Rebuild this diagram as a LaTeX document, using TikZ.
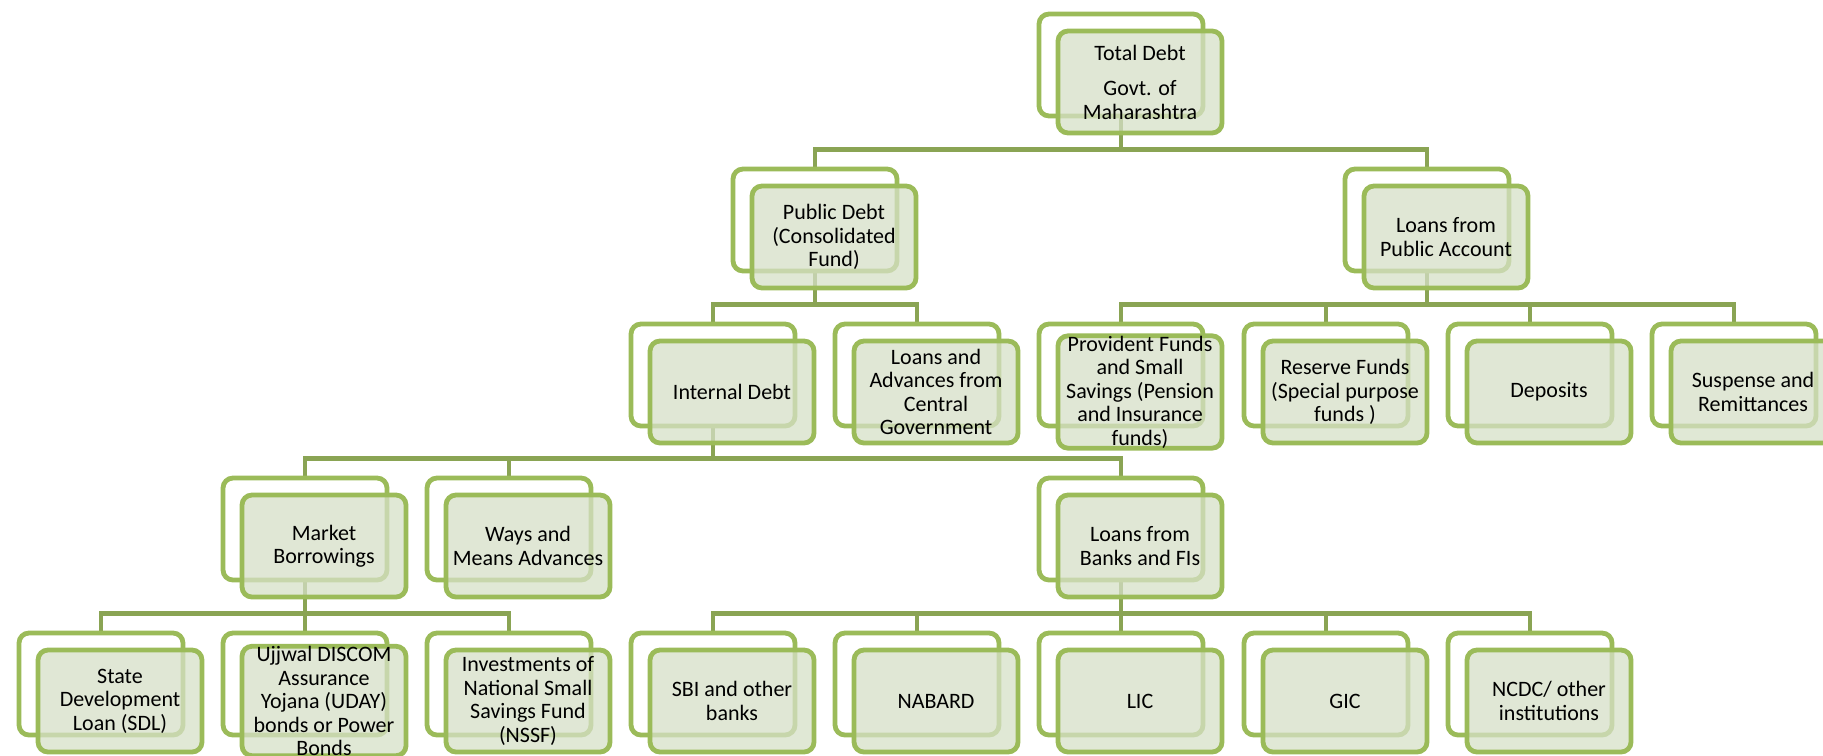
\documentclass[tikz,border=0pt]{standalone}
\usepackage{fontspec}
\setmainfont{Carlito}
\usetikzlibrary{positioning}
\pgfdeclarelayer{background}
\pgfsetlayers{background,main}
\definecolor{framegreen}{RGB}{155,187,89}
\definecolor{linkgreen}{RGB}{138,164,84}
\definecolor{boxgreen}{RGB}{214,224,199}
\tikzset{
  backnode/.style={draw=framegreen,line width=2.4pt,fill=white,rounded corners=5pt,
    minimum width=82pt,minimum height=51pt,inner sep=0pt},
  facenode/.style={backnode,fill=boxgreen,fill opacity=0.75,text opacity=1,
    align=center,font=\fontsize{11}{11.75}\selectfont},
  linkline/.style={draw=linkgreen,line width=2.3pt},
  face/.style={shift={(9.5pt,-8.5pt)}}
}

\begin{document}
\begin{tikzpicture}[x=0.5pt,y=-0.5pt]
  \useasboundingbox (0,0) rectangle (1823,755);
  \clip (0,0) rectangle (1823,755);
  % frames behind the boxes
  \foreach \n/\x/\y in {tot/1121/65, pd/815/220, lpa/1427/220,
      id/713/375, lcg/917/375, pf/1121/375, rf/1326/375, dep/1530/375, sr/1734/375,
      mb/305/529, wma/509/529, lbf/1121/529,
      sdl/101/684, uday/305/684, nssf/509/684,
      sbi/713/684, nab/917/684, lic/1121/684, gic/1326/684, ncdc/1530/684}
    \node[backnode] (\n) at (\x,\y) {};
  % boxes
  \node[facenode] (tot-f) at ([face]tot) {Total Debt\\[6pt]Govt. of\\Maharashtra};
  \node[facenode] (pd-f) at ([face]pd) {Public Debt\\(Consolidated\\Fund)};
  \node[facenode] (lpa-f) at ([face]lpa) {Loans from\\Public Account};
  \node[facenode] (id-f) at ([face]id) {Internal Debt};
  \node[facenode] (lcg-f) at ([face]lcg) {Loans and\\Advances from\\Central\\Government};
  \node[facenode] (pf-f) at ([face]pf) {Provident Funds\\and Small\\Savings (Pension\\and Insurance\\funds)};
  \node[facenode] (rf-f) at ([face]rf) {Reserve Funds\\(Special purpose\\funds )};
  \node[facenode] (dep-f) at ([face]dep) {Deposits};
  \node[facenode] (sr-f) at ([face]sr) {Suspense and\\Remittances};
  \node[facenode] (mb-f) at ([face]mb) {Market\\Borrowings};
  \node[facenode] (wma-f) at ([face]wma) {Ways and\\Means Advances};
  \node[facenode] (lbf-f) at ([face]lbf) {Loans from\\Banks and FIs};
  \node[facenode] (sdl-f) at ([face]sdl) {State\\Development\\Loan (SDL)};
  \node[facenode] (uday-f) at ([face]uday) {Ujjwal DISCOM\\Assurance\\Yojana (UDAY)\\bonds or Power\\Bonds};
  \node[facenode] (nssf-f) at ([face]nssf) {Investments of\\National Small\\Savings Fund\\(NSSF)};
  \node[facenode] (sbi-f) at ([face]sbi) {SBI and other\\banks};
  \node[facenode] (nab-f) at ([face]nab) {NABARD};
  \node[facenode] (lic-f) at ([face]lic) {LIC};
  \node[facenode] (gic-f) at ([face]gic) {GIC};
  \node[facenode] (ncdc-f) at ([face]ncdc) {NCDC/ other\\institutions};
  % connectors
  \begin{pgfonlayer}{background}
    \foreach \a/\b in {tot/pd, tot/lpa, pd/id, pd/lcg,
        lpa/pf, lpa/rf, lpa/dep, lpa/sr,
        id/mb, id/wma, id/lbf,
        mb/sdl, mb/uday, mb/nssf,
        lbf/sbi, lbf/nab, lbf/lic, lbf/gic, lbf/ncdc}
      \draw[linkline] (\a.south) |- ([yshift=8.7pt]\b.north) -- (\b.north);
  \end{pgfonlayer}
\end{tikzpicture}
\end{document}
